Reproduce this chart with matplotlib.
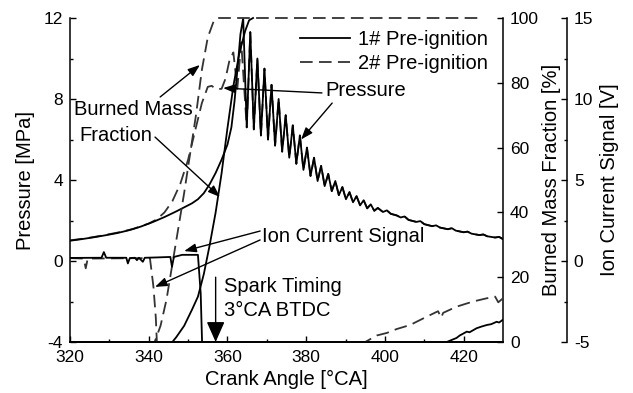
import matplotlib
matplotlib.use("Agg")
import matplotlib.pyplot as plt
import numpy as np

plt.rcParams['font.family'] = ['Liberation Sans', 'DejaVu Sans']
plt.rcParams['axes.unicode_minus'] = False

# ---------------- data ----------------
# 1# pre-ignition pressure [MPa]
p1_ca = [320, 323, 326, 329, 332, 335, 338, 341, 344, 347, 349, 351, 352.5, 354, 355.5, 357, 358.5, 360,
         361, 361.8, 362.6, 363.3, 364.0, 364.9, 365.8, 366.7, 367.6, 368.5, 369.4, 370.3, 371.2, 372.1,
         373.0, 373.9, 374.8, 375.7, 376.6, 377.5, 378.4, 379.3, 380.2, 381.1, 382.0, 382.9, 383.8, 384.7,
         385.6, 386.5, 387.4, 388.3, 389.2, 390.1, 391.0, 391.9, 392.8, 393.7, 394.6, 395.5, 396.4, 397.3,
         398.2, 399.5, 400.5, 401.5, 403, 404, 405, 406, 408, 409, 410, 412, 413, 414, 416, 417, 418, 420,
         421, 422, 424, 425, 426, 428, 429, 430]
p1_val = [1.00, 1.08, 1.17, 1.27, 1.38, 1.52, 1.70, 1.92, 2.17, 2.45, 2.65, 2.85, 3.05, 3.35, 3.8, 4.35, 5.0, 5.75,
          6.6, 7.9, 9.6, 11.2, 12.0, 6.6, 11.3, 6.5, 10.0, 6.2, 9.5, 6.0, 8.7, 5.7,
          8.0, 5.4, 7.2, 5.1, 6.7, 4.8, 6.2, 4.5, 5.6, 4.2, 5.1, 3.95, 4.7, 3.7,
          4.3, 3.45, 3.95, 3.25, 3.65, 3.05, 3.4, 2.9, 3.2, 2.75, 3.0, 2.6, 2.8, 2.48,
          2.62, 2.42, 2.5, 2.33, 2.25, 2.15, 2.2, 2.03, 1.93, 1.97, 1.82, 1.72, 1.76, 1.65, 1.57, 1.62, 1.5, 1.42,
          1.45, 1.35, 1.28, 1.31, 1.22, 1.16, 1.19, 1.08]

# 2# pre-ignition pressure [MPa] (early part; later merges with 1#)
p2_ca_early = [320, 324, 328, 332, 336, 340, 342, 344, 346, 348, 350, 352, 353.5, 355, 356, 357, 358.5,
               359.5, 360.5, 361.5, 362.5, 363.5]
p2_val_early = [1.02, 1.12, 1.25, 1.40, 1.58, 1.85, 2.05, 2.4, 2.95, 3.8, 5.0, 6.6, 7.8, 8.6, 8.65, 8.5, 8.5,
                9.0, 9.9, 10.3, 8.5, 10.8]

# burned mass fraction [%]
b1_ca = [320, 346, 347, 349, 351, 352.5, 354, 355.5, 357, 358.5, 360, 361.5, 363, 364.5, 365.5, 366.5]
b1_val = [0, 0, 1.5, 5, 10, 14, 21, 30, 40, 52, 66, 79, 89, 96, 99.3, 100]
b2_ca = [320, 341.5, 343, 344.5, 346, 347.5, 349, 350.5, 352, 353.5, 355, 356.5, 357.5, 424]
b2_val = [0, 0, 5, 13, 24, 35, 46, 58, 70, 84, 94, 99, 100, 100]

# ion current signal [V]
i1_ca = [320, 328, 328.6, 329.2, 334.3, 334.7, 335.2, 336.5, 337, 337.5, 338.5, 339, 342, 345.5, 345.9, 346.4,
         348.5, 352.5, 353.2, 353.9, 414, 415.7, 418.2, 419, 420.8, 421.5, 423.3, 424.5, 425.9, 427, 428.4,
         429, 430]
i1_val = [0.19, 0.2, 0.55, 0.2, 0.2, -0.15, 0.18, 0.2, 0.05, 0.2, -0.05, 0.2, 0.22, 0.25, -0.35, 0.25,
          0.38, 0.38, -2, -8, -8, -5.0, -4.75, -4.6, -4.36, -4.4, -4.15, -4.05, -3.95, -3.9, -3.75,
          -3.8, -3.62]
i2_ca = [320, 323.5, 324, 324.5, 340.3, 340.6, 341.2, 341.8, 342.6, 394, 395, 397.9, 400.5, 403, 406.4, 410.6,
         413.5, 414.3, 414.8, 418.2, 422.4, 425.9, 428, 428.8, 430]
i2_val = [0.18, 0.15, -0.45, 0.15, 0.18, -0.4, -1.6, -3.5, -8, -8, -5, -4.6, -4.44, -4.2, -3.95, -3.44,
          -3.1, -3.5, -3.2, -2.82, -2.5, -2.3, -2.2, -2.55, -2.3]

series_labels = ["1# Pre-ignition", "2# Pre-ignition"]

# ---------------- figure ----------------
fig = plt.figure(figsize=(6.33, 3.93), dpi=100)
L, R, B, T = 70 / 633, 503 / 633, 1 - 342 / 393, 1 - 18 / 393
ax1 = fig.add_axes([L, B, R - L, T - B])
ax2 = ax1.twinx()
ax3 = ax1.twinx()

lw = 1.3
dash = (7, 3.5)

# pressure
p2_ca = p2_ca_early + [c for c in p1_ca if c >= 364.9]
p2_val = p2_val_early + [v for c, v in zip(p1_ca, p1_val) if c >= 364.9]
ax1.plot(p2_ca, p2_val, color='#333333', lw=lw, dashes=dash)
ax1.plot(p1_ca, p1_val, color='black', lw=lw)

# burned mass fraction
ax2.plot(b2_ca, b2_val, color='#333333', lw=lw, dashes=dash, clip_on=False)
ax2.plot(b1_ca, b1_val, color='black', lw=lw, clip_on=False)

# ion current
ax3.plot(i2_ca, i2_val, color='#333333', lw=lw, dashes=dash)
ax3.plot(i1_ca, i1_val, color='black', lw=lw)

# legend handles
h1 = plt.Line2D([], [], color='black', lw=lw)
h2 = plt.Line2D([], [], color='#333333', lw=lw, dashes=dash)

FS_T = 12.5
FS_L = 14.5

ax1.set_xlim(320, 430)
ax1.set_ylim(-4, 12)
ax2.set_ylim(0, 100)
ax3.set_ylim(-5, 15)

ax1.set_xticks([320, 340, 360, 380, 400, 420])
ax1.set_xticks(np.arange(330, 430, 20), minor=True)
ax1.set_yticks([-4, 0, 4, 8, 12])
ax1.set_yticks([-2, 2, 6, 10], minor=True)
ax2.set_yticks([0, 20, 40, 60, 80, 100])
ax3.set_yticks([-5, 0, 5, 10, 15])
ax3.set_yticks([-2.5, 2.5, 7.5, 12.5], minor=True)

for ax in (ax1, ax2, ax3):
    ax.tick_params(which='major', direction='in', length=4.5, width=1, labelsize=FS_T, pad=5)
    ax.tick_params(which='minor', direction='in', length=2.5, width=1)
    ax.spines['top'].set_visible(False)
    for s in ax.spines.values():
        s.set_linewidth(1.1)

ax1.spines['right'].set_visible(False)
ax2.spines['left'].set_visible(False)
ax3.spines['left'].set_visible(False)
ax3.spines['right'].set_position(('outward', 46))
ax1.tick_params(axis='x', pad=6)

ax1.set_xlabel("Crank Angle [°CA]", fontsize=FS_L, labelpad=3)
ax1.set_ylabel("Pressure [MPa]", fontsize=FS_L, labelpad=6)
ax2.set_ylabel("Burned Mass Fraction [%]", fontsize=FS_L, labelpad=2)
ax3.set_ylabel("Ion Current Signal [V]", fontsize=FS_L, labelpad=5)

ax1.legend([h1, h2], series_labels, loc='upper right', bbox_to_anchor=(0.97, 0.97),
           frameon=False, fontsize=FS_L, handlelength=2.5, labelspacing=0.28,
           borderpad=0.1, borderaxespad=0, handletextpad=0.4)

# ---------------- annotations ----------------
ap = dict(arrowstyle='-|>,head_length=0.6,head_width=0.22', color='black', lw=1.0,
          shrinkA=0, shrinkB=0, mutation_scale=12)
ax1.text(321, 7.46, "Burned Mass", fontsize=FS_L, ha='left', va='center')
ax1.text(322.3, 6.22, "Fraction", fontsize=FS_L, ha='left', va='center')
ax1.annotate("", xy=(353.0, 9.68), xytext=(342.9, 8.1), arrowprops=ap)
ax1.annotate("", xy=(358.1, 3.16), xytext=(341.6, 6.12), arrowprops=ap)

ax1.text(384.8, 8.44, "Pressure", fontsize=FS_L, ha='left', va='center')
ax1.annotate("", xy=(358.9, 8.54), xytext=(384.0, 8.3), arrowprops=ap)
ax1.annotate("", xy=(378.7, 6.0), xytext=(386.6, 7.8), arrowprops=ap)

ax1.text(368.8, 1.19, "Ion Current Signal", fontsize=FS_L, ha='left', va='center')
ax1.annotate("", xy=(349.0, 0.49), xytext=(368.3, 1.48), arrowprops=ap)
ax1.annotate("", xy=(341.6, -1.28), xytext=(368.3, 1.04), arrowprops=ap)

ax1.text(359.1, -1.28, "Spark Timing", fontsize=FS_L, ha='left', va='center')
ax1.text(359.1, -2.42, "3°CA BTDC", fontsize=FS_L, ha='left', va='center')
ax1.annotate("", xy=(357, -4), xytext=(357, -0.8),
             arrowprops=dict(arrowstyle='-|>,head_length=0.9,head_width=0.4', color='black', lw=1.0,
                             shrinkA=0, shrinkB=0, mutation_scale=14))

fig.savefig("out.png", dpi=100)
